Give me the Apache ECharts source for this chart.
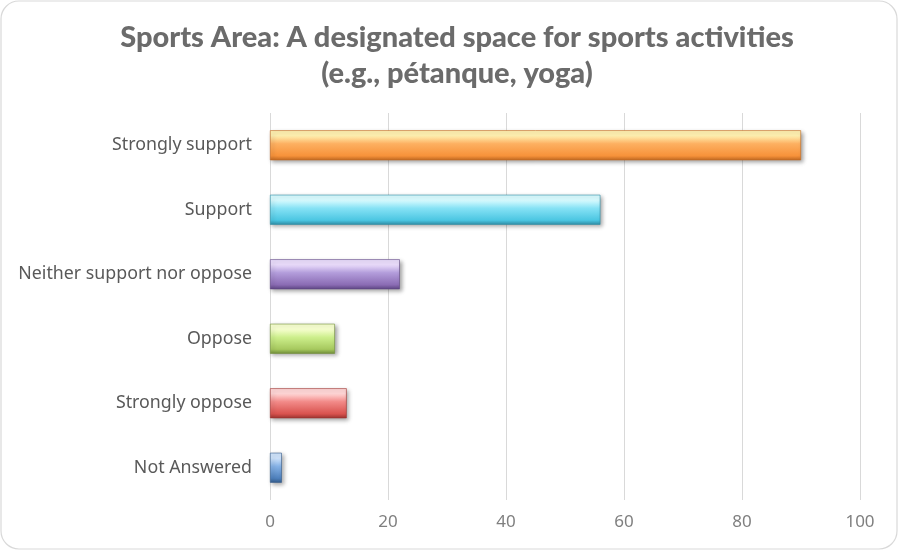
<!DOCTYPE html>
<html>
<head>
<meta charset="utf-8">
<script src="https://cdn.jsdelivr.net/npm/echarts@6/dist/echarts.min.js"></script>
<style>
  html, body { margin: 0; padding: 0; background: #ffffff; }
  #chart { width: 899px; height: 551px; }
</style>
</head>
<body>
<div id="chart"></div>
<script>
// Survey responses for the proposed sports area
const categories = ['Strongly support', 'Support', 'Neither support nor oppose', 'Oppose', 'Strongly oppose', 'Not Answered'];
const responses = [90, 56, 22, 11, 13, 2];
const tickValues = [0, 20, 40, 60, 80, 100];

// Bevel-like shading per bar: [highlight, mid, base, edge]
const barShades = [
  ['#fff0b0', '#fdb061', '#f7923a', '#c26a22'],
  ['#d8fbff', '#86e2f5', '#4bc6e2', '#2f8ea6'],
  ['#eadcfb', '#b39ddb', '#8b6cb4', '#5f4684'],
  ['#f7ffd0', '#cdef8c', '#a6c85e', '#72903a'],
  ['#ffd6d6', '#f28a88', '#d9534f', '#9e3431'],
  ['#cfe3fb', '#86b2e6', '#4f81bd', '#355d8c']
];

const chart = echarts.init(document.getElementById('chart'));

const barData = responses.map((v, i) => {
  const s = barShades[i];
  return {
    value: v,
    itemStyle: {
      color: new echarts.graphic.LinearGradient(0, 0, 0, 1, [
        { offset: 0, color: s[0] },
        { offset: 0.18, color: s[0] },
        { offset: 0.45, color: s[1] },
        { offset: 0.85, color: s[2] },
        { offset: 1, color: s[3] }
      ]),
      borderColor: s[3],
      borderWidth: 0.6,
      shadowColor: 'rgba(0,0,0,0.35)',
      shadowBlur: 4,
      shadowOffsetX: 2,
      shadowOffsetY: 2
    }
  };
});

chart.setOption({
  animation: false,
  backgroundColor: '#ffffff',
  graphic: [{
    type: 'rect',
    shape: { x: 1, y: 1, width: 896, height: 548, r: 18 },
    style: { fill: 'none', stroke: '#d9d9d9', lineWidth: 1.2 },
    z: -1
  }],
  title: {
    text: 'Sports Area: A designated space for sports activities\n(e.g., pétanque, yoga)',
    left: 452,
    textAlign: 'center',
    top: 15,
    textStyle: {
      fontFamily: 'Lato',
      fontWeight: 900,
      fontSize: 29,
      lineHeight: 36,
      color: '#6b6b6b'
    }
  },
  grid: { left: 270, right: 39, top: 113, bottom: 51, containLabel: false },
  xAxis: {
    type: 'value',
    min: tickValues[0],
    max: tickValues[tickValues.length - 1],
    interval: tickValues[1] - tickValues[0],
    axisLine: { show: false },
    axisTick: { show: false },
    splitLine: { show: true, lineStyle: { color: '#d9d9d9', width: 1 } },
    axisLabel: {
      color: '#7f7f7f',
      fontFamily: 'Noto Sans',
      fontSize: 17,
      margin: 14
    }
  },
  yAxis: {
    type: 'category',
    data: categories,
    inverse: true,
    axisLine: { show: false },
    axisTick: { show: false },
    axisLabel: {
      color: '#595959',
      fontFamily: 'Noto Sans',
      fontSize: 17.8,
      margin: 18
    }
  },
  series: [{
    type: 'bar',
    data: barData,
    barWidth: 30
  }]
});
</script>
</body>
</html>
